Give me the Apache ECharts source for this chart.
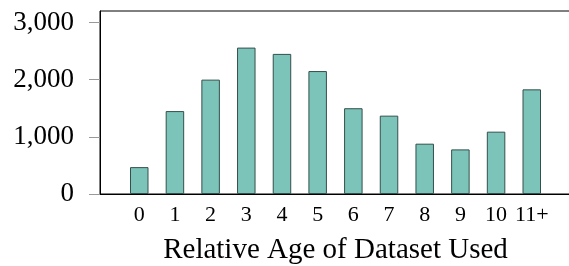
<!DOCTYPE HTML>
<html>
<head>
    <meta charset="utf-8">
    <title>Relative Age of Dataset Used</title>
    <script type="text/javascript" src="https://cdn.jsdelivr.net/npm/echarts@6/dist/echarts.min.js"></script>
    <style>
        html, body { margin: 0; padding: 0; background: #fff; }
        #container { width: 569px; height: 266px; }
    </style>
</head>
<body>
<div id="container"></div>
<script type="text/javascript">
    // categories on the x axis
    var categories = ['0', '1', '2', '3', '4', '5', '6', '7', '8', '9', '10', '11+'];
    // number of papers per relative age
    var counts = [470, 1450, 2000, 2560, 2450, 2150, 1500, 1370, 880, 780, 1090, 1830];
    // y tick values
    var yTicks = [0, 1000, 2000, 3000];

    var serif = '"Liberation Serif", "Times New Roman", serif';

    var xPositions = categories.map(function (c, i) { return i; });
    var barData = counts.map(function (v, i) { return [xPositions[i], v]; });

    var dom = document.getElementById("container");
    var myChart = echarts.init(dom, null, {renderer: 'canvas'});

    var option = {
        animation: false,
        grid: {
            left: 100,
            top: 11,
            right: -2,
            bottom: 72,
            show: true,
            borderColor: '#000',
            borderWidth: 1,
            containLabel: false,
            outerBoundsMode: 'none'
        },
        xAxis: {
            type: 'value',
            min: -1.1,
            max: 12.1,
            name: 'Relative Age of Dataset Used',
            nameLocation: 'middle',
            nameGap: 42,
            nameTextStyle: {
                fontFamily: serif,
                fontSize: 29,
                color: '#000'
            },
            axisLine: {onZero: false, lineStyle: {color: '#000', width: 1}},
            axisTick: {show: false},
            splitLine: {show: false},
            axisLabel: {
                customValues: xPositions,
                formatter: function (v) { return categories[v]; },
                fontFamily: serif,
                fontSize: 22,
                color: '#000',
                margin: 10
            }
        },
        yAxis: {
            type: 'value',
            min: 0,
            max: 3200,
            axisLine: {show: true, onZero: false, lineStyle: {color: '#000', width: 1}},
            axisTick: {
                show: true,
                customValues: yTicks,
                length: 11,
                lineStyle: {color: '#999'}
            },
            splitLine: {show: false},
            axisLabel: {
                customValues: yTicks,
                formatter: function (v) { return v.toLocaleString('en-US'); },
                fontFamily: serif,
                fontSize: 27,
                color: '#000',
                margin: 26
            }
        },
        series: [
            {
                type: 'bar',
                barWidth: 18.5,
                data: barData,
                itemStyle: {
                    color: '#7cc4b9',
                    borderColor: '#34504c',
                    borderWidth: 1
                }
            }
        ]
    };

    myChart.setOption(option, true);
</script>
</body>
</html>
